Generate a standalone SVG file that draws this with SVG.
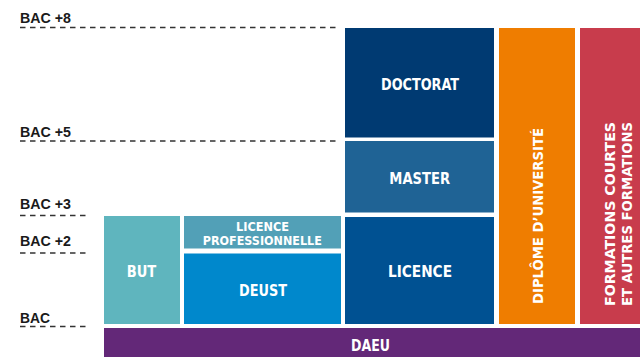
<svg xmlns="http://www.w3.org/2000/svg" width="640" height="357" viewBox="0 0 640 357">
<style>
.lvl{font-family:"Liberation Sans",Arial,sans-serif;font-weight:bold;font-size:14px;fill:#1a1a1a}
.dash{stroke:#333;stroke-width:1.4;stroke-dasharray:5.5 4.5;fill:none}
.t{font-family:"DejaVu Sans Condensed","DejaVu Sans",sans-serif;font-weight:bold;font-size:15.5px;fill:#fff;text-anchor:middle}
.ts{font-size:12.5px}
.tv{font-size:14px}
</style>
<rect width="640" height="357" fill="#fff"/>
<g id="levels">
<text class="lvl" x="20" y="22.5" textLength="51" lengthAdjust="spacingAndGlyphs">BAC +8</text>
<text class="lvl" x="20" y="136.5" textLength="51" lengthAdjust="spacingAndGlyphs">BAC +5</text>
<text class="lvl" x="20" y="208.5" textLength="51" lengthAdjust="spacingAndGlyphs">BAC +3</text>
<text class="lvl" x="20" y="246" textLength="51" lengthAdjust="spacingAndGlyphs">BAC +2</text>
<text class="lvl" x="20" y="322.5" textLength="30" lengthAdjust="spacingAndGlyphs">BAC</text>
</g>
<g id="connectors">
<line class="dash" x1="20" y1="27.5" x2="340" y2="27.5"/>
<line class="dash" x1="20" y1="141" x2="340" y2="141"/>
<line class="dash" x1="20" y1="215.5" x2="90" y2="215.5"/>
<line class="dash" x1="20" y1="253" x2="90" y2="253"/>
<line class="dash" x1="20" y1="326.5" x2="90" y2="326.5"/>
</g>
<g id="but"><rect x="104" y="216" width="76" height="108" fill="#5fb5be"/><text class="t" x="141.5" y="277" textLength="29.5" lengthAdjust="spacingAndGlyphs">BUT</text></g>
<g id="lp"><rect x="184" y="216" width="157" height="32.5" fill="#52a0b7"/><text class="t ts" x="262.5" y="230.7" textLength="53" lengthAdjust="spacingAndGlyphs">LICENCE</text><text class="t ts" x="262.3" y="245" textLength="119" lengthAdjust="spacingAndGlyphs">PROFESSIONNELLE</text></g>
<g id="deust"><rect x="184" y="253.5" width="157" height="70.5" fill="#0088cc"/><text class="t" x="263" y="296" textLength="48" lengthAdjust="spacingAndGlyphs">DEUST</text></g>
<g id="licence"><rect x="345" y="217" width="149" height="107" fill="#005192"/><text class="t" x="420" y="277" textLength="64" lengthAdjust="spacingAndGlyphs">LICENCE</text></g>
<g id="master"><rect x="345" y="141" width="149" height="71.5" fill="#1f6395"/><text class="t" x="419.7" y="183.7" textLength="60.7" lengthAdjust="spacingAndGlyphs">MASTER</text></g>
<g id="doctorat"><rect x="345" y="28" width="149" height="109.5" fill="#003a72"/><text class="t" x="420" y="90" textLength="78" lengthAdjust="spacingAndGlyphs">DOCTORAT</text></g>
<g id="du"><rect x="499" y="28" width="76" height="296" fill="#ef7d00"/><text class="t tv" transform="translate(543,216) rotate(-90)" x="0" y="0" textLength="176" lengthAdjust="spacingAndGlyphs">DIPLÔME D’UNIVERSITÉ</text></g>
<g id="formations"><rect x="580" y="28" width="60" height="296" fill="#c83c4c"/><text class="t tv" transform="translate(615,214) rotate(-90)" x="0" y="0" textLength="184" lengthAdjust="spacingAndGlyphs">FORMATIONS COURTES</text><text class="t tv" transform="translate(632,214) rotate(-90)" x="0" y="0" textLength="184" lengthAdjust="spacingAndGlyphs">ET AUTRES FORMATIONS</text></g>
<g id="daeu"><rect x="104" y="328" width="536" height="29" fill="#632878"/><text class="t" x="370.5" y="351" textLength="39" lengthAdjust="spacingAndGlyphs">DAEU</text></g>
</svg>
